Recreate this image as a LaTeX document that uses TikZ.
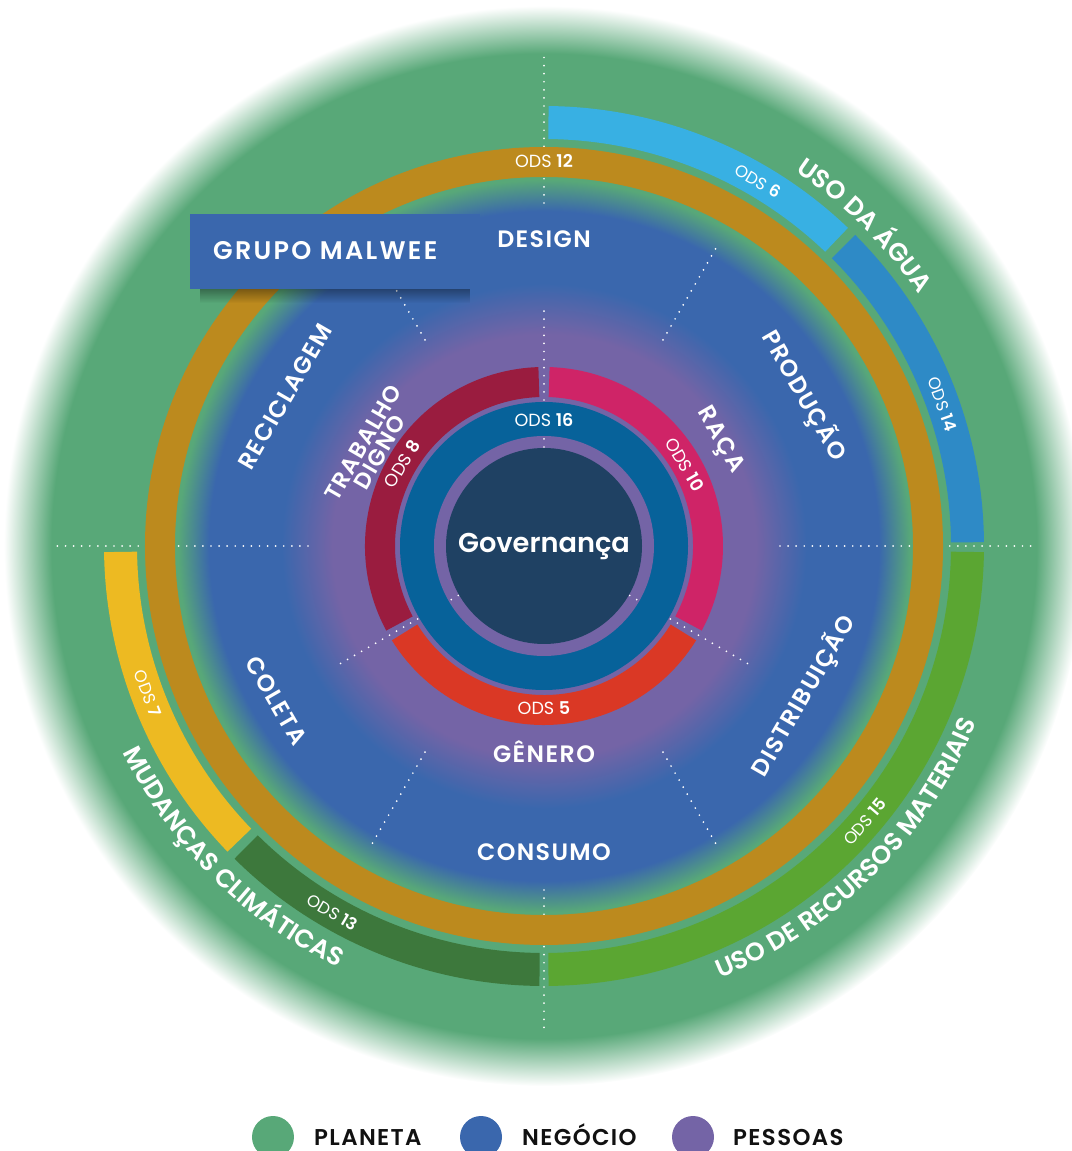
\documentclass[tikz,border=0pt]{standalone}
\usepackage{fontspec}
\setmainfont{Poppins}[BoldFont={Poppins SemiBold}]
\newfontfamily\largafont{Poppins}[LetterSpace=6, BoldFont={Poppins SemiBold}]
\newfontfamily\grupofont{Poppins}[LetterSpace=9, BoldFont={Poppins SemiBold}]
\usepackage{xcolor}
\usepackage{tikz}
\usetikzlibrary{calc,positioning,decorations.text,fadings}

\definecolor{planeta}{HTML}{58A878}
\definecolor{negocio}{HTML}{3A67AD}
\definecolor{pessoas}{HTML}{7464A6}
\definecolor{ouro}{HTML}{BC8A1E}
\definecolor{ods6}{HTML}{38B0E3}
\definecolor{ods14}{HTML}{2E8AC6}
\definecolor{ods15}{HTML}{5BA632}
\definecolor{ods7}{HTML}{EDBA22}
\definecolor{ods13}{HTML}{3D783C}
\definecolor{ods8}{HTML}{9A1C3F}
\definecolor{ods10}{HTML}{CF2467}
\definecolor{ods5}{HTML}{DA3825}
\definecolor{ods16}{HTML}{07629A}
\definecolor{nucleo}{HTML}{1F4163}
\definecolor{legenda}{HTML}{111111}

% 25bp = borda do circulo
\pgfdeclareradialshading{fundo}{\pgfpointorigin}{%
  color(0bp)=(pessoas); color(9.8bp)=(pessoas); color(12.15bp)=(negocio);
  color(15.5bp)=(negocio); color(16.95bp)=(planeta); color(22.8bp)=(planeta);
  color(25bp)=(white); color(50bp)=(white)}

% anel: cor, angulo inicial, angulo final, raio interno, raio externo
\newcommand{\anel}[5]{%
  \fill[#1] (#2:#5) arc[start angle=#2, end angle=#3, radius=#5]
    -- (#3:#4) arc[start angle=#3, end angle=#2, radius=#4] -- cycle;}
\newcommand{\curvafont}{\fontsize{14.5}{14}\selectfont\bfseries}

\begin{document}
\begin{tikzpicture}[x=0.02cm,y=0.02cm,
    rotulo/.style={text=white, font=\largafont\fontsize{13.5}{13}\selectfont\bfseries, align=center},
    odsrot/.style={text=white, font=\fontsize{10}{10}\selectfont},
    odsfora/.style={text=white, font=\fontsize{9.5}{10}\selectfont},
    pontos/.style={white, line width=1.1pt, line cap=round, dash pattern=on 0pt off 4.6pt},
    legtxt/.style={text=legenda, font=\largafont\fontsize{13}{13}\selectfont\bfseries, anchor=base west}]
  \useasboundingbox (-544,-605) rectangle (527,546);

  % fundo com as tres camadas
  \shade[shading=fundo] (0,0) circle (540);

  % linhas pontilhadas
  \draw[pontos] (90:343) -- (90:494);
  \draw[pontos] (270:344) -- (270:489);
  \foreach \a in {0,180}
    \draw[pontos] (\a:236) -- (\a:492);
  \foreach \a in {60,120,240,300}
    \draw[pontos] (\a:238) -- (\a:344);

  % anel do ODS 12
  \fill[ouro, even odd rule] (0,0) circle (399) (0,0) circle (369);

  % arcos externos
  \anel{ods6}{89.4}{46.3}{407}{440}
  \anel{ods14}{45}{0.5}{407}{440}
  \anel{ods15}{-0.8}{-89.4}{407}{440}
  \anel{ods13}{269.4}{225.3}{407}{440}
  \anel{ods7}{224}{180.8}{407}{440}

  % aneis internos
  \fill[pessoas] (0,0) circle (149);
  \fill[ods16] (0,0) circle (144);
  \fill[pessoas] (0,0) circle (110);
  \fill[nucleo] (0,0) circle (98);
  \anel{ods10}{88.2}{-28.2}{149}{179}
  \anel{ods5}{-31.8}{-148.2}{149}{179}
  \anel{ods8}{208.2}{91.8}{149}{179}
  \foreach \a in {90,210,330} {
    \draw[pontos] (\a:146) -- (\a:238);
    \draw[pontos] (\a:99) -- (\a:110);
  }

  % textos
  \node[text=white, font=\fontsize{15.5}{15}\selectfont\bfseries] (gov) at (0,0) {Governança};
  \node[odsrot] (ods16) at (90:126) {ODS \textbf{16}};
  \node[odsrot, rotate=59] (ods8) at (150:164) {ODS \textbf{8}};
  \node[odsrot, rotate=-60] (ods10) at (30:163) {ODS \textbf{10}};
  \node[odsrot] (ods5) at (270:162) {ODS \textbf{5}};
  \node[rotulo, rotate=60, font=\largafont\fontsize{13}{11}\selectfont\bfseries] (trabalho) at (150.3:199) {TRABALHO\\DIGNO};
  \node[rotulo, rotate=-60] (raca) at (31:205) {RAÇA};
  \node[rotulo] (genero) at (270:206) {GÊNERO};
  \node[rotulo] (design) at (90:307) {DESIGN};
  \node[rotulo, rotate=-60] (producao) at (30:300) {PRODUÇÃO};
  \node[rotulo, rotate=60] (distribuicao) at (-30:300) {DISTRIBUIÇÃO};
  \node[rotulo] (consumo) at (270:306) {CONSUMO};
  \node[rotulo, rotate=-60] (coleta) at (210:309) {COLETA};
  \node[rotulo, rotate=60] (reciclagem) at (150:299) {RECICLAGEM};
  \node[odsrot] (ods12) at (90:385) {ODS \textbf{12}};
  \node[odsfora, rotate=-30.4] (ods6) at (59.6:423) {ODS \textbf{6}};
  \node[odsfora, rotate=-70.4] (ods14) at (19.6:423) {ODS \textbf{14}};
  \node[odsfora, rotate=49.3] (ods15) at (-40.7:423) {ODS \textbf{15}};
  \node[odsfora, rotate=-69.6] (ods7) at (200.4:423) {ODS \textbf{7}};
  \node[odsfora, rotate=-30] (ods13) at (240:423) {ODS \textbf{13}};

  % textos curvos
  \path[decorate, decoration={text along path, text color=white,
      text={|\curvafont|USO DA ÁGUA}, text align=center}]
    (80:451) arc[start angle=80, end angle=10, radius=451];
  \path[decorate, decoration={text along path, text color=white,
      text={|\curvafont|USO DE RECURSOS MATERIAIS}, text align=center}]
    (-95:467) arc[start angle=-95, end angle=5, radius=467];
  \path[decorate, decoration={text along path, text color=white,
      text={|\curvafont|MUDANÇAS CLIMÁTICAS}, text align=center}]
    (185:469) arc[start angle=185, end angle=265, radius=469];

  % caixa do grupo
  \fill[black, opacity=0.35, path fading=south] (-344,257) rectangle (-74,243);
  \fill[negocio] (-354,257) rectangle (-64,332);
  \node[text=white, font=\grupofont\fontsize{14.5}{14}\selectfont\bfseries, anchor=west] (grupo) at (-337,295) {GRUPO MALWEE};

  % legenda
  \fill[planeta] (-271,-591) circle (21);
  \node[legtxt] (planeta) at (-236,-599) {PLANETA};
  \fill[negocio] (-63,-591) circle (21);
  \node[legtxt] (negocio) at (-28,-599) {NEGÓCIO};
  \fill[pessoas] (149,-591) circle (21);
  \node[legtxt] (pessoas) at (183,-599) {PESSOAS};
\end{tikzpicture}
\end{document}
